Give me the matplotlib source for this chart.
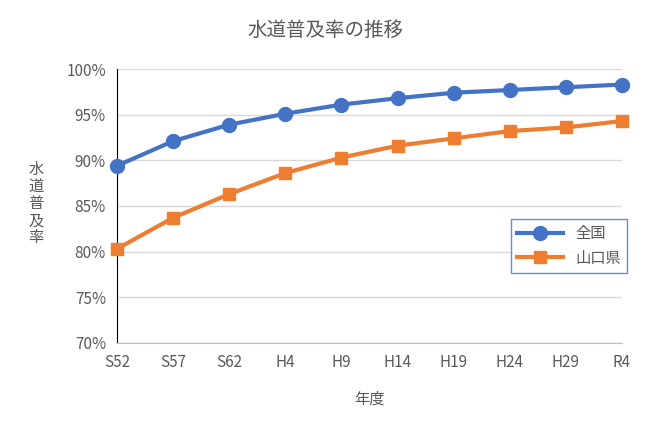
import matplotlib
matplotlib.use("Agg")
import matplotlib.pyplot as plt

plt.rcParams["font.family"] = "Noto Sans CJK JP"

years = ["S52", "S57", "S62", "H4", "H9", "H14", "H19", "H24", "H29", "R4"]
national = [89.4, 92.1, 93.9, 95.1, 96.1, 96.8, 97.4, 97.7, 98.0, 98.3]
yamaguchi = [80.3, 83.7, 86.3, 88.6, 90.3, 91.6, 92.4, 93.2, 93.6, 94.3]
yticks = [70, 75, 80, 85, 90, 95, 100]

fig = plt.figure(figsize=(6.5, 4.34), dpi=100)
ax = fig.add_axes([0.18, 0.21, 0.777, 0.631])
x = list(range(len(years)))
ax.plot(x, national, color="#4472c4", lw=3, marker="o", ms=10, label="全国", clip_on=False, zorder=3)
ax.plot(x, yamaguchi, color="#ed7d31", lw=3, marker="s", ms=9, label="山口県", clip_on=False, zorder=3)

ax.set_xlim(0, len(years) - 1)
ax.set_ylim(70, 100)
ax.set_yticks(yticks)
ax.set_yticklabels([f"{v}%" for v in yticks])
ax.set_xticks(x)
ax.set_xticklabels(years)
ax.grid(axis="y", color="#d9d9d9", lw=1)
ax.set_axisbelow(True)
for s in ["top", "right"]:
    ax.spines[s].set_visible(False)
ax.spines["left"].set_color("black")
ax.spines["bottom"].set_color("#bfbfbf")
ax.tick_params(length=0, labelsize=11, colors="#595959", pad=8)
ax.set_xlabel("年度", fontsize=11, color="#595959", labelpad=14)
fig.text(0.055, 0.53, "水\n道\n普\n及\n率", fontsize=11, color="#595959",
         ha="center", va="center", linespacing=1.0)
fig.suptitle("水道普及率の推移", y=0.955, fontsize=14, color="#595959")
leg = ax.legend(loc="upper left", bbox_to_anchor=(0.765, 0.48), fontsize=11,
                fancybox=False, edgecolor="#4472c4", handlelength=3)
for t in leg.get_texts():
    t.set_color("#595959")

fig.savefig("out.png", dpi=100)
